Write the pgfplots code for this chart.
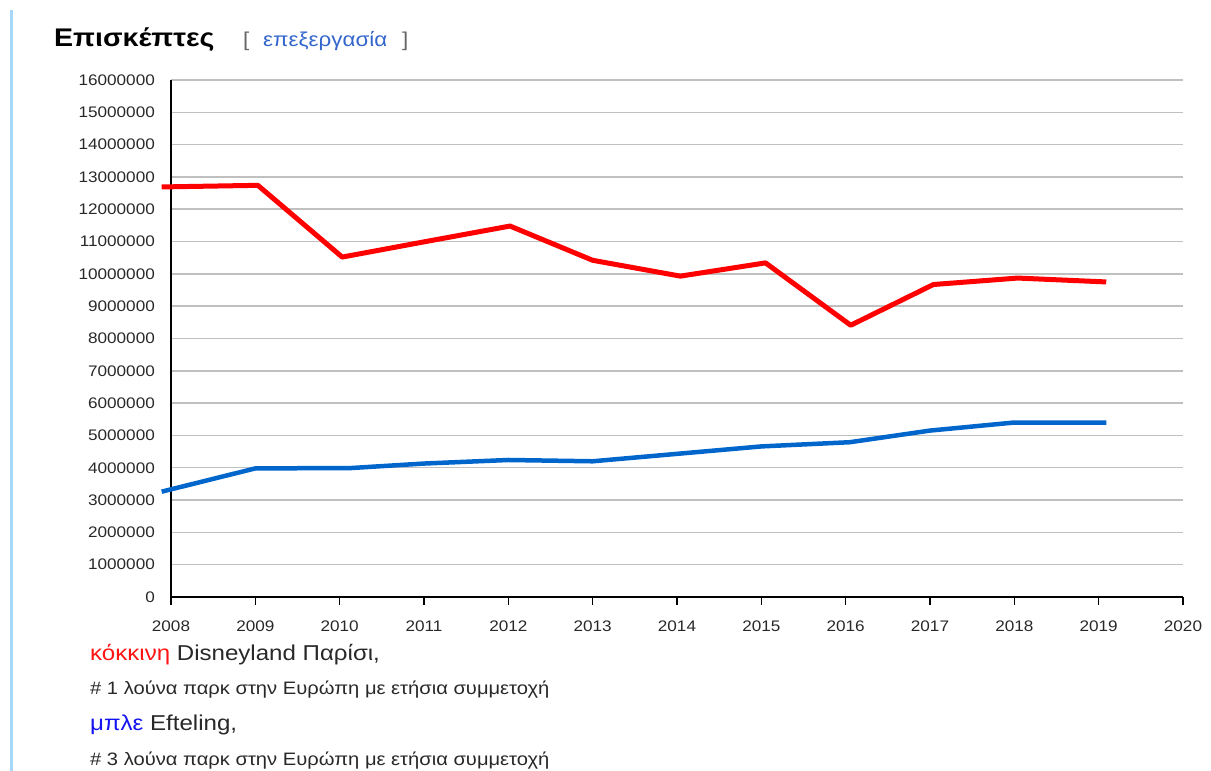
\documentclass[border=0pt]{standalone}
\usepackage{pgfplots}
\pgfplotsset{compat=1.18}
\usepackage{fontspec}
\setmainfont[FakeStretch=1.12]{Liberation Sans}
\definecolor{redline}{RGB}{255,0,0}
\definecolor{blueline}{RGB}{0,102,204}
\definecolor{linkblue}{RGB}{51,102,204}
\definecolor{txt}{RGB}{40,40,40}
\definecolor{gridgray}{RGB}{192,192,192}
\definecolor{wikiblue}{RGB}{167,215,249}
\definecolor{redtext}{RGB}{255,20,20}
\definecolor{bluetext}{RGB}{20,20,240}

\pgfplotstableread{
year value
2007.89 12690000
2009.03 12740000
2010.03 10520000
2011.02 11000000
2012.02 11480000
2013.00 10420000
2014.04 9930000
2015.05 10340000
2016.06 8410000
2017.04 9670000
2018.04 9870000
2019.09 9750000
}\disney

\pgfplotstableread{
year value
2007.89 3260000
2009.00 3980000
2010.13 3990000
2011.00 4130000
2012.00 4240000
2013.00 4200000
2014.00 4430000
2015.00 4660000
2016.05 4790000
2017.00 5150000
2018.00 5400000
2019.09 5400000
}\efteling

\begin{document}
\begin{tikzpicture}
\useasboundingbox (0pt,0pt) rectangle (1211pt,771pt);
\begin{scope}[x=1pt,y=1pt]
\fill[wikiblue] (10,0) rectangle (12.5,761);
\node[anchor=base west, inner sep=0pt, font=\fontsize{25.5}{30}\selectfont\bfseries, text=black] at (54,724) {Επισκέπτες};
\node[anchor=base west, inner sep=0pt, font=\fontsize{20}{24}\selectfont, text=black!60] at (243,724) {[};
\node[anchor=base west, inner sep=0pt, font=\fontsize{20}{24}\selectfont, text=linkblue] at (263,724) {επεξεργασία};
\node[anchor=base west, inner sep=0pt, font=\fontsize{20}{24}\selectfont, text=black!60] at (402,724) {]};
\end{scope}

\begin{axis}[
  at={(171pt,174pt)}, anchor=south west,
  scale only axis, width=1012pt, height=517pt,
  xmin=2008, xmax=2020, ymin=0, ymax=16000000,
  axis x line*=bottom, axis y line*=left,
  axis line style={black, line width=1.3pt},
  clip=false,
  scaled y ticks=false, scaled x ticks=false,
  xtick={2008,2009,2010,2011,2012,2013,2014,2015,2016,2017,2018,2019,2020},
  xticklabels={2008,2009,2010,2011,2012,2013,2014,2015,2016,2017,2018,2019,2020},
  ytick={0,1000000,2000000,3000000,4000000,5000000,6000000,7000000,8000000,9000000,10000000,11000000,12000000,13000000,14000000,15000000,16000000},
  yticklabels={0,1000000,2000000,3000000,4000000,5000000,6000000,7000000,8000000,9000000,10000000,11000000,12000000,13000000,14000000,15000000,16000000},
  tick align=outside,
  major tick length=8pt,
  xtick style={black, line width=1.3pt},
  ytick style={draw=none},
  ymajorgrids,
  major grid style={gridgray, line width=1.5pt},
  tick label style={font=\fontsize{15.3}{18}\selectfont, text=txt, inner sep=0pt},
  yticklabel style={anchor=east, xshift=-8pt},
  xticklabel style={anchor=north, yshift=-16pt},
  /pgf/number format/assume math mode=true,
]
\addplot[redline, line width=5pt, line join=round, no markers] table[x=year, y=value] {\disney};
\addplot[blueline, line width=4.5pt, line join=round, no markers] table[x=year, y=value] {\efteling};
\end{axis}

\begin{scope}[x=1pt,y=1pt]
\node[anchor=base west, inner sep=0pt, font=\fontsize{21.5}{24}\selectfont, text=txt] at (90,110) {\textcolor{redtext}{κόκκινη} Disneyland Παρίσι,};
\node[anchor=base west, inner sep=0pt, font=\fontsize{18}{20}\selectfont, text=txt] at (90,76) {\# 1 λούνα παρκ στην Ευρώπη με ετήσια συμμετοχή};
\node[anchor=base west, inner sep=0pt, font=\fontsize{21.5}{24}\selectfont, text=txt] at (90,40) {\textcolor{bluetext}{μπλε} Efteling,};
\node[anchor=base west, inner sep=0pt, font=\fontsize{18}{20}\selectfont, text=txt] at (90,5) {\# 3 λούνα παρκ στην Ευρώπη με ετήσια συμμετοχή};
\end{scope}
\end{tikzpicture}
\end{document}
